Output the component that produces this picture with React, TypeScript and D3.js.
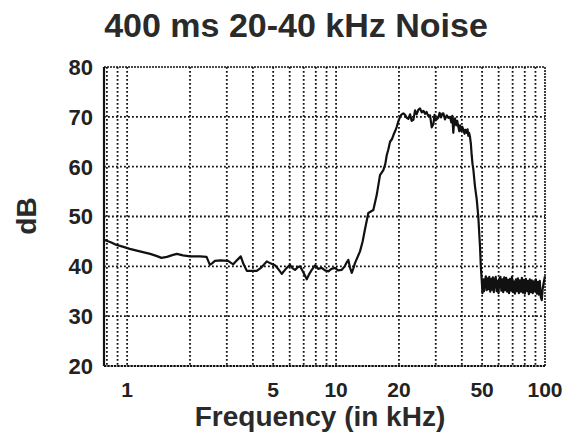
import React from "react";
import * as d3 from "d3";

// Spectrum of a 400 ms band-limited (20-40 kHz) noise burst
const freqKHz: number[] = [
  0.78, 0.84, 0.89, 0.96, 1.03, 1.15, 1.29, 1.4, 1.46, 1.55, 1.66, 1.73, 1.85, 2.0, 2.23, 2.4,
  2.49, 2.55, 2.63, 2.8, 3.04, 3.22, 3.35, 3.5, 3.6, 3.74, 4.17, 4.4, 4.66, 4.85, 5.1, 5.3,
  5.5, 5.75, 6.02, 6.2, 6.36, 6.55, 6.72, 6.95, 7.24, 7.45, 7.65, 7.93, 8.2, 8.54, 8.85, 9.19,
  9.5, 9.89, 10.2, 10.65, 11.0, 11.25, 11.45, 11.65, 11.89, 12.1, 12.33, 13.02, 13.4, 13.76, 14.27, 15.08,
  15.65, 16.23, 16.84, 17.2, 17.48, 17.8, 18.13, 18.5, 18.8, 19.2, 19.52, 19.9, 20.24, 20.6, 20.99, 21.39,
  21.8, 22.18, 22.6, 23.0, 23.44, 23.88, 24.3, 24.76, 25.23, 25.7, 26.2, 26.66, 27.1, 27.6, 28.17, 28.7,
  29.22, 29.6, 30.0, 30.86, 31.3, 31.8, 32.2, 32.62, 33.2, 33.86, 34.5, 35.11, 35.6, 36.0, 36.41, 36.8,
  37.1, 37.6, 38.0, 38.47, 38.9, 39.2, 39.8, 40.2, 40.64, 41.2, 41.6, 42.19, 42.6, 42.95, 43.3, 43.75,
  44.2, 44.58, 45.0, 45.38, 46.24, 47.11, 47.94, 48.85, 49.3, 49.77, 50.2, 50.66, 51.1, 51.62, 52.1, 52.6,
  53.1, 53.6, 54.1, 54.7, 55.2, 55.8, 56.3, 56.9, 57.5, 58.1, 58.7, 59.3, 59.9, 60.5, 61.2, 61.8,
  62.5, 63.1, 63.8, 64.5, 65.2, 65.9, 66.6, 67.3, 68.0, 68.8, 69.5, 70.3, 71.0, 71.8, 72.6, 73.4,
  74.2, 75.0, 75.8, 76.7, 77.5, 78.4, 79.2, 80.1, 81.0, 81.9, 82.8, 83.7, 84.6, 85.5, 86.5, 87.4,
  88.4, 89.4, 90.4, 91.4, 92.4, 93.4, 94.4, 95.5, 96.5, 97.5, 98.5, 99.5, 100,
];

const levelDb: number[] = [
  45.3, 44.8, 44.3, 43.9, 43.5, 43.0, 42.5, 42.0, 41.7, 41.9, 42.3, 42.5, 42.2, 42.0, 42.0, 41.9,
  40.3, 40.6, 41.1, 41.2, 41.1, 40.4, 41.2, 42.0, 40.5, 39.1, 39.1, 39.8, 41.0, 40.6, 40.2, 39.4,
  38.5, 39.5, 40.3, 39.6, 39.3, 39.8, 40.0, 38.9, 37.4, 38.5, 39.3, 40.2, 39.5, 39.7, 39.2, 39.0,
  39.5, 39.7, 39.2, 39.3, 40.0, 40.8, 41.3, 39.8, 38.7, 39.6, 40.7, 43.0, 45.0, 47.5, 50.7, 51.3,
  54.3, 58.3, 59.3, 60.5, 62.3, 63.5, 65.0, 65.5, 66.3, 67.2, 68.0, 69.2, 70.0, 70.5, 70.7, 70.4,
  69.8, 69.6, 70.5, 69.2, 69.4, 71.3, 70.5, 71.4, 71.7, 70.9, 71.2, 70.6, 71.0, 70.2, 70.3, 67.9,
  68.5, 70.4, 69.3, 69.8, 70.8, 69.9, 70.6, 70.7, 69.5, 70.3, 69.8, 70.0, 68.9, 70.2, 66.8, 69.5,
  69.7, 68.3, 69.2, 68.0, 67.1, 68.3, 67.2, 68.0, 67.5, 66.6, 67.4, 66.8, 67.5, 66.2, 66.8, 66.0,
  64.5, 62.3, 60.5, 59.5, 56.0, 53.5, 50.0, 44.0, 40.0, 37.3, 34.6, 37.4, 35.0, 37.2, 38.0, 35.2,
  37.6, 35.4, 37.9, 34.9, 37.5, 35.3, 37.8, 34.8, 37.3, 37.9, 35.0, 37.1, 34.6, 37.6, 37.9, 35.1,
  37.4, 34.8, 37.8, 35.2, 37.7, 34.9, 37.3, 34.6, 37.5, 35.1, 37.9, 34.8, 37.0, 34.5, 37.4, 35.0,
  37.6, 34.6, 37.2, 34.9, 37.7, 34.7, 37.3, 34.5, 37.5, 35.0, 37.1, 34.4, 37.4, 34.8, 37.2, 34.6,
  37.0, 35.0, 37.4, 34.5, 36.9, 34.3, 37.1, 33.8, 33.2, 35.5, 36.6, 37.6, 38.0,
];

const xGrid: number[] = [0.8, 0.9, 1, 2, 3, 4, 5, 6, 7, 8, 9, 10, 20, 30, 40, 50, 60, 70, 80, 90];
const xTickLabels: number[] = [1, 5, 10, 20, 50, 100];
const yTicks: number[] = [20, 30, 40, 50, 60, 70, 80];
const yGrid: number[] = [30, 40, 50, 60, 70];

const W = 566;
const H = 442;
const left = 104;
const right = 545;
const top = 67;
const bottom = 366;

export default function App() {
  const x = d3.scaleLog().domain([0.775, 100]).range([left, right]);
  const y = d3.scaleLinear().domain([20, 80]).range([bottom, top]);
  const pts: [number, number][] = freqKHz.map((f, i) => [f, levelDb[i]]);
  const line = d3
    .line<[number, number]>()
    .x((d) => x(d[0]))
    .y((d) => y(d[1]));
  const font = "'Liberation Sans', Arial, sans-serif";
  const dotted = { stroke: "#111", strokeWidth: 1.8, strokeDasharray: "1.8 2.2" };

  return (
    <svg
      width={W}
      height={H}
      style={{ position: "absolute", left: 0, top: 0, background: "#fff" }}
      fontFamily={font}
    >
      <rect x={0} y={0} width={W} height={H} fill="#fff" />
      <text x={296} y={37} textAnchor="middle" fontSize={34} fontWeight="bold" fill="#2a2a2a">
        400 ms 20-40 kHz Noise
      </text>

      {xGrid.map((v) => (
        <line key={"gx" + v} x1={x(v)} x2={x(v)} y1={top} y2={bottom} {...dotted} />
      ))}
      {yGrid.map((v) => (
        <line key={"gy" + v} x1={left} x2={right} y1={y(v)} y2={y(v)} {...dotted} />
      ))}

      {/* frame */}
      <line x1={left} x2={right} y1={top} y2={top} stroke="#111" strokeWidth={1.6} strokeDasharray="2 1" />
      <line x1={left} x2={right} y1={bottom} y2={bottom} stroke="#111" strokeWidth={1.8} strokeDasharray="2.5 0.8" />
      <line x1={right} x2={right} y1={top} y2={bottom} stroke="#111" strokeWidth={1.6} strokeDasharray="2 1" />
      <line x1={left} x2={left} y1={top} y2={bottom} stroke="#111" strokeWidth={2.2} />

      <path d={line(pts) ?? ""} fill="none" stroke="#111" strokeWidth={2.2} strokeLinejoin="round" />

      {yTicks.map((v) => (
        <text
          key={"yt" + v}
          x={93}
          y={y(v)}
          dy="0.36em"
          textAnchor="end"
          fontSize={22}
          fontWeight="bold"
          fill="#222"
        >
          {v}
        </text>
      ))}
      {xTickLabels.map((v) => (
        <text
          key={"xt" + v}
          x={x(v)}
          y={397}
          textAnchor="middle"
          fontSize={21}
          fontWeight="bold"
          fill="#222"
        >
          {v}
        </text>
      ))}

      <text x={320} y={426} textAnchor="middle" fontSize={28} fontWeight="bold" fill="#2a2a2a">
        Frequency (in kHz)
      </text>
      <text
        transform="translate(36,216) rotate(-90)"
        textAnchor="middle"
        fontSize={28}
        fontWeight="bold"
        fill="#2a2a2a"
      >
        dB
      </text>
    </svg>
  );
}
